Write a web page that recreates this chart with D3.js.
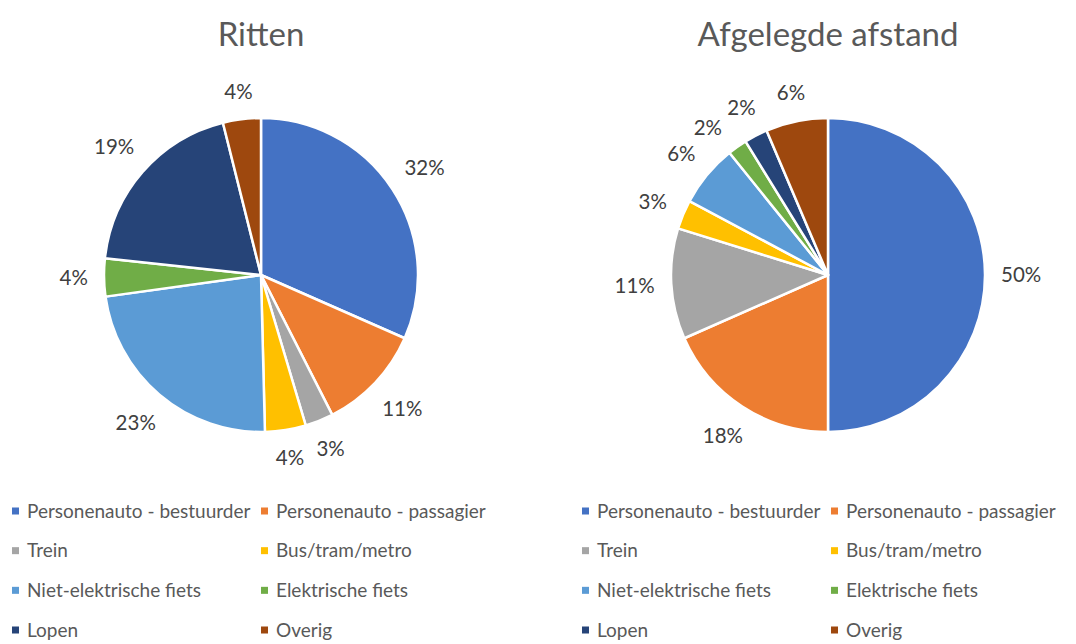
<!DOCTYPE html>
<meta charset="utf-8">
<style>
  body { margin: 0; background: #fff; }
  .title { font: 33px Lato, sans-serif; fill: #595959; }
  .lbl { font: 20.5px Lato, sans-serif; fill: #404040; }
  .legend text { font: 19px Lato, sans-serif; fill: #595959; }
</style>
<svg width="1076" height="644"></svg>
<script src="https://d3js.org/d3.v7.min.js"></script>
<script>

// categories shared by both pies
var categories = ["Personenauto - bestuurder", "Personenauto - passagier", "Trein", "Bus/tram/metro",
                  "Niet-elektrische fiets", "Elektrische fiets", "Lopen", "Overig"];

// percentages
var rittenValues  = [31.6, 10.9, 2.9, 4.2, 23.2, 3.9, 19.4, 3.9];
var afstandValues = [50.0, 18.4, 11.4, 3.0, 6.4, 2.0, 2.4, 6.4];

var titles = ["Ritten", "Afgelegde afstand"];

var colors = ["#4472C4", "#ED7D31", "#A5A5A5", "#FFC000", "#5B9BD5", "#70AD47", "#264478", "#9E480E"];

var svg = d3.select("svg");
var color = d3.scaleOrdinal().domain(categories).range(colors);

var r = 157;
var charts = [
  {title: titles[0], values: rittenValues,  cx: 261, legendX: 12},
  {title: titles[1], values: afstandValues, cx: 828, legendX: 582}
];

var pie = d3.pie().sort(null).value(function(d) { return d.value; });
var arc = d3.arc().innerRadius(0).outerRadius(r);
var pct = d3.format(".0%");

charts.forEach(function(c) {
  var g = svg.append("g").attr("transform", "translate(" + c.cx + ",275)");

  svg.append("text")
      .attr("class", "title")
      .attr("x", c.cx)
      .attr("y", 46)
      .attr("text-anchor", "middle")
      .text(c.title);

  var data = categories.map(function(k, i) { return {key: k, value: c.values[i]}; });
  var arcs = pie(data);

  g.selectAll("path")
    .data(arcs)
    .enter().append("path")
      .attr("d", arc)
      .attr("fill", function(d) { return color(d.data.key); })
      .attr("stroke", "#fff")
      .attr("stroke-width", 2.5)
      .attr("stroke-linejoin", "round");

  // labels outside the slice end
  var labels = g.selectAll("text.lbl")
    .data(arcs)
    .enter().append("text")
      .attr("class", "lbl")
      .attr("text-anchor", "middle")
      .attr("dy", "0.35em")
      .text(function(d) { return pct(d.data.value / 100); });

  var boxes = [];
  labels.each(function(d) {
    d.hw = this.getComputedTextLength() / 2;
    d.hh = 10;
  });

  // place from the last slice backwards, nudge counter-clockwise on overlap
  var nodes = labels.nodes().slice().reverse();
  nodes.forEach(function(node) {
    var d = d3.select(node).datum();
    var a = (d.startAngle + d.endAngle) / 2;
    var pos;
    for (var step = 0; step < 60; step++) {
      var s = Math.sin(a), co = Math.cos(a);
      var dist = r + 16 + d.hw * Math.abs(s) + d.hh * Math.abs(co);
      pos = {x: dist * s, y: -dist * co};
      var hit = boxes.some(function(b) {
        return Math.abs(b.x - pos.x) < b.hw + d.hw + 3 && Math.abs(b.y - pos.y) < b.hh + d.hh + 2;
      });
      if (!hit) break;
      a -= Math.PI / 180;
    }
    boxes.push({x: pos.x, y: pos.y, hw: d.hw, hh: d.hh});
    d3.select(node).attr("x", pos.x).attr("y", pos.y);
  });

  // legend, two columns
  var col = d3.scaleOrdinal().domain([0, 1]).range([0, 249]);
  var row = d3.scaleLinear().domain([0, 3]).range([511, 630]);

  var legend = svg.append("g")
      .attr("class", "legend")
      .attr("transform", "translate(" + c.legendX + ",0)")
    .selectAll("g")
    .data(categories)
    .enter().append("g")
      .attr("transform", function(d, i) { return "translate(" + col(i % 2) + "," + row(Math.floor(i / 2)) + ")"; });

  legend.append("rect")
      .attr("x", 0)
      .attr("y", -3.5)
      .attr("width", 7)
      .attr("height", 7)
      .attr("fill", color);

  legend.append("text")
      .attr("x", 15)
      .attr("dy", "0.35em")
      .text(function(d) { return d; });
});

</script>
